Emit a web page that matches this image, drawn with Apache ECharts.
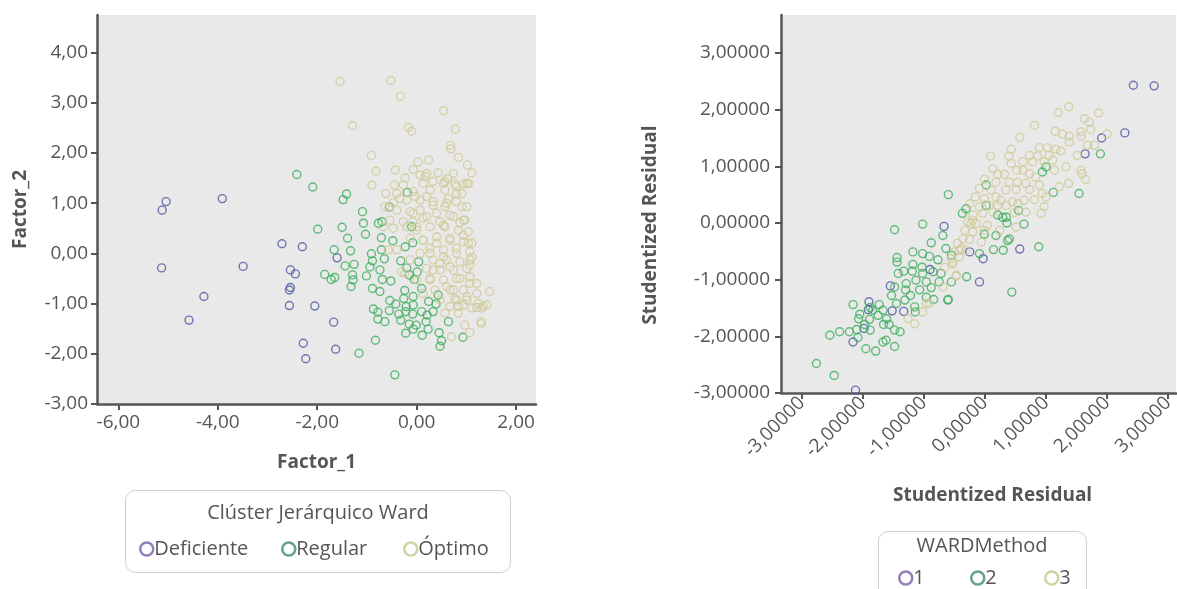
<!DOCTYPE html>
<html>
<head>
<meta charset="utf-8">
<script src="https://cdn.jsdelivr.net/npm/echarts@6/dist/echarts.min.js"></script>
<style>
html,body{margin:0;padding:0;background:#fff;}
#chart{width:1177px;height:589px;}
</style>
</head>
<body>
<div id="chart"></div>
<script>
// ---------- DATA ----------
const leftTicksX = [-6, -4, -2, 0, 2];
const leftTicksY = [-3, -2, -1, 0, 1, 2, 3, 4];
const rightTicks = [-3, -2, -1, 0, 1, 2, 3];

const leftNames = ['Deficiente', 'Regular', 'Óptimo'];
const rightNames = ['1', '2', '3'];
const leftLegendTitle = 'Clúster Jerárquico Ward';
const rightLegendTitle = 'WARDMethod';

const deficiente = [
[-5.04,1.03],[-5.12,0.86],[-3.91,1.09],[-5.13,-0.29],[-3.49,-0.26],[-4.28,-0.86],[-4.58,-1.33],
[-2.71,0.19],[-2.30,0.13],[-2.54,-0.33],[-2.44,-0.41],[-2.54,-0.68],[-2.56,-0.73],[-2.56,-1.04],
[-2.05,-1.05],[-2.28,-1.79],[-2.23,-2.10],[-1.67,-1.37],[-1.63,-1.91],[-1.60,-0.09]
];
const regular = [
[-2.41,1.57],[-2.09,1.32],[-1.99,0.48],[-1.66,0.07],[-1.85,-0.42],[-1.72,-0.52],[-1.65,-0.48],
[-1.48,1.07],[-1.41,1.18],[-1.09,0.83],[-1.07,0.60],[-0.77,0.60],[-0.70,0.63],[-1.50,0.52],[-0.10,0.53],
[-0.55,0.92],[-0.19,1.21],[-1.03,0.38],[-1.39,0.30],[-0.71,0.31],[-0.48,0.25],[-1.33,0.05],[-0.91,-0.01],
[-0.71,0.07],[-0.23,0.13],[-0.08,0.21],[-0.89,-0.15],[-0.65,-0.11],[-0.32,-0.15],[0.04,-0.17],[-1.44,-0.25],
[-1.26,-0.22],[-0.94,-0.27],[-0.74,-0.33],[-0.20,-0.29],[0.01,-0.37],[-1.29,-0.43],[-1.01,-0.45],[-1.28,-0.53],
[-0.69,-0.52],[-0.52,-0.55],[-0.15,-0.43],[-0.05,-0.52],[-1.32,-0.66],[-0.89,-0.70],[-0.74,-0.76],[-0.24,-0.74],
[0.10,-0.70],[-0.26,-0.90],[-0.07,-0.86],[0.43,-0.83],[-0.54,-0.94],[-0.42,-1.01],[-0.21,-1.06],[-0.07,-1.03],
[0.24,-0.96],[0.39,-1.01],[-0.87,-1.11],[-0.78,-1.17],[-0.55,-1.14],[-0.36,-1.21],[-0.22,-1.16],[-0.08,-1.21],
[0.10,-1.16],[0.21,-1.23],[0.33,-1.16],[-0.78,-1.31],[-0.64,-1.36],[-0.32,-1.33],[-0.15,-1.41],[-0.01,-1.43],
[0.19,-1.36],[-0.22,-1.59],[-0.07,-1.51],[0.11,-1.63],[0.23,-1.51],[0.45,-1.58],[0.64,-1.36],[0.50,-1.74],
[0.47,-1.85],[0.93,-1.67],[-0.83,-1.73],[-1.16,-1.99],[-0.44,-2.42]
];
const optimo = [
[-1.54,3.42],[-0.52,3.44],[-0.33,3.13],[0.54,2.84],[-1.29,2.54],[-0.17,2.51],[-0.10,2.43],[0.78,2.47],
[0.68,2.15],[0.69,2.08],[0.84,1.91],[-0.91,1.95],[0.03,1.82],[0.24,1.86],[1.02,1.76],[1.11,1.60],
[-0.82,1.64],[-0.43,1.66],[-0.07,1.67],[-0.23,1.50],[-0.90,1.36],[-0.45,1.36],[-0.62,1.19],[1.01,1.39],
[0.07,1.56],[0.20,1.59],[0.43,1.60],[0.62,1.49],[0.74,1.59],[0.13,1.39],[0.33,1.43],[0.54,1.39],
[0.77,1.38],[0.94,1.38],[0.27,1.26],[0.57,1.26],[0.80,1.19],[0.20,1.13],[-0.03,1.13],[-0.34,1.09],
[-0.47,1.01],[0.64,1.09],[0.91,0.93],[0.60,1.00],[0.33,0.96],[0.07,0.86],[-0.13,0.83],[-0.40,0.86],
[-0.64,0.93],[0.40,0.80],[0.67,0.76],[0.94,0.66],[0.13,0.70],[-0.07,0.63],[0.47,0.63],[0.27,0.53],
[-0.27,0.63],[-0.54,0.66],[1.47,-0.76],[0.97,-1.43],[1.29,-1.36],[1.30,-1.40],[0.70,-1.66],[1.07,-1.58],
[1.21,-1.08],[1.34,-1.05],[0.94,-1.03],[0.80,-0.93],[0.60,-0.66],[1.07,-0.60],[1.21,-0.60],[0.27,-0.53],
[0.87,-0.50],[0.67,-0.27],[1.07,-0.23],[0.27,0.00],[0.54,-0.07],[0.80,0.00],[1.11,-0.08],[0.13,0.26],
[0.40,0.20],[0.67,0.30],[0.94,0.36],[1.04,0.20],[0.54,0.56],[0.87,0.61],[-0.20,0.53],[0.00,0.46],
[-0.40,0.07],[-0.30,-0.37],[0.33,-0.33],[0.47,-0.20],[0.74,-0.73],[1.01,-0.86],[0.67,-1.06],[0.84,-1.19],
[0.57,-1.19],[-0.07,0.80],[0.20,0.73],[0.74,0.73],[0.97,0.66],[0.00,0.53],[0.57,0.53],[0.84,0.46],
[1.04,0.43],[-0.13,0.30],[0.13,0.26],[0.40,0.33],[0.67,0.26],[0.94,0.23],[1.11,0.20],[0.27,0.10],
[0.54,0.07],[0.80,0.10],[1.07,0.03],[0.07,0.00],[0.33,-0.13],[0.60,-0.13],[0.87,-0.17],[1.07,-0.13],
[0.20,-0.30],[0.47,-0.33],[0.74,-0.33],[1.01,-0.30],[0.27,-0.50],[0.54,-0.53],[0.80,-0.50],[1.07,-0.47],
[0.67,-0.73],[0.94,-0.73],[1.21,-0.80],[0.77,-0.90],[1.01,-0.93],[1.24,-1.00],[0.84,-1.06],[1.11,-1.09],
[1.31,-1.09],[1.41,-1.03],[0.37,-0.73],[0.47,-0.93],[-0.13,-0.13],[-0.24,-0.40],[0.00,-0.53],[0.13,-0.80],
[-0.20,1.06],[0.07,1.06],[0.33,1.03],[0.57,0.93],[0.80,1.03],[1.01,0.93],[0.17,1.53],[0.57,1.43],
[0.80,1.33],[1.04,1.39],[0.91,1.19],[-0.07,1.23],[-0.40,1.19],[-0.27,1.36],[-0.54,0.93],[-0.67,0.53],
[-0.47,0.50],[-0.57,0.07]
];

const ward1 = [
[2.43,2.43],[2.77,2.42],[2.29,1.59],[1.91,1.50],[1.64,1.22],[-0.67,-0.06],[0.57,-0.46],[-0.03,-0.63],
[-0.25,-0.51],[-0.90,-0.82],[-1.55,-1.11],[-1.90,-1.39],[-1.91,-1.53],[-1.52,-1.55],[-1.33,-1.56],
[-1.98,-1.86],[-2.16,-2.10],[-2.12,-2.95],[-0.09,-1.04]
];
const ward2 = [
[-1.48,-0.12],[-1.02,-0.02],[-0.69,-0.22],[-0.88,-0.35],[-1.18,-0.51],[-1.02,-0.54],[-0.91,-0.59],
[-0.77,-0.65],[-0.64,-0.45],[-0.55,-0.57],[-1.44,-0.61],[-1.44,-0.69],[-1.18,-0.73],[-1.03,-0.78],
[-1.19,-0.85],[-1.33,-0.85],[-1.42,-0.89],[-1.02,-0.89],[-0.85,-0.86],[-0.72,-0.89],[-1.13,-1.01],
[-0.96,-1.04],[-0.75,-1.04],[-0.55,-1.04],[-0.88,-1.14],[-1.29,-1.07],[-1.48,-1.13],[-1.53,-1.28],
[-1.30,-1.18],[-1.22,-1.28],[-1.07,-1.18],[-0.96,-1.31],[-0.84,-1.35],[-0.61,-1.36],[-1.31,-1.36],
[-1.45,-1.42],[-1.73,-1.44],[-1.88,-1.49],[-2.16,-1.44],[-2.05,-1.61],[-1.84,-1.54],[-1.67,-1.54],
[-1.75,-1.63],[-1.61,-1.69],[-2.07,-1.69],[-1.89,-1.70],[-1.15,-1.48],[-1.14,-1.57],[-1.48,-1.89],
[-1.39,-1.92],[-1.66,-1.79],[-1.57,-1.79],[-1.97,-1.79],[-2.10,-1.88],[-1.88,-1.89],[-2.22,-1.92],
[-2.38,-1.92],[-2.54,-1.98],[-2.08,-2.02],[-1.67,-2.10],[-1.62,-2.07],[-1.95,-2.22],[-1.79,-2.26],
[-1.48,-2.18],[-2.76,-2.48],[-2.47,-2.69],[1.89,1.22],[-0.60,0.50],[1.00,0.99],[0.94,0.90],
[1.12,0.54],[1.54,0.52],[0.02,0.67],[-0.31,0.25],[-0.37,0.17],[0.21,0.14],[0.35,0.10],[0.36,0.00],
[0.55,0.22],[0.64,-0.02],[-0.01,-0.20],[0.18,-0.22],[0.37,-0.31],[0.40,-0.28],[0.14,-0.47],[0.30,-0.48],
[0.88,-0.42],[-0.09,-0.54],[0.44,-1.22],[0.02,0.31],[0.29,0.10],[-0.30,-0.95],[-0.60,-1.35]
];
const ward3 = [
[1.37,2.05],[1.20,1.95],[1.86,1.94],[1.63,1.84],[1.71,1.78],[0.81,1.72],[1.73,1.65],[1.15,1.62],
[1.27,1.57],[1.38,1.53],[1.57,1.61],[1.58,1.53],[2.00,1.57],[0.57,1.51],[1.38,1.43],[1.68,1.37],
[1.79,1.37],[0.89,1.33],[1.02,1.33],[1.16,1.30],[1.24,1.27],[0.73,1.19],[0.86,1.18],[1.05,1.19],
[1.51,1.19],[0.09,1.18],[0.39,1.18],[0.43,1.30],[0.62,1.08],[0.78,1.08],[0.97,1.08],[1.11,1.11],
[1.33,0.99],[0.43,1.05],[0.13,0.96],[0.21,0.86],[0.32,0.86],[0.52,0.93],[0.62,0.93],[0.73,0.87],
[0.83,0.81],[1.14,0.93],[1.57,0.93],[1.59,0.87],[1.65,0.77],[-0.01,0.77],[0.18,0.72],[0.40,0.72],
[0.53,0.72],[0.67,0.70],[0.89,0.67],[1.37,0.70],[1.22,0.64],[-0.09,0.61],[0.10,0.58],[0.34,0.58],
[0.51,0.59],[0.73,0.59],[0.94,0.52],[-0.16,0.46],[-0.01,0.43],[0.18,0.46],[0.26,0.40],[0.45,0.37],
[0.64,0.40],[0.81,0.41],[1.00,0.46],[0.92,0.17],[0.97,0.29],[-0.25,0.34],[-0.09,0.28],[0.07,0.31],
[0.21,0.31],[0.35,0.31],[0.54,0.34],[-0.20,0.14],[-0.04,0.17],[0.13,0.19],[0.48,0.18],[0.67,0.19],
[-0.28,0.02],[-0.14,-0.01],[0.04,-0.04],[0.51,-0.07],[-0.33,-0.13],[-0.20,-0.16],[-0.01,-0.13],[0.24,-0.13],
[-0.36,-0.28],[-0.25,-0.29],[-0.06,-0.34],[-0.45,-0.36],[-0.39,-0.45],[-0.50,-0.51],[-0.31,-0.48],[-0.42,-0.60],
[-0.55,-0.63],[-0.23,-0.01],[-0.53,-0.72],[-0.66,-0.78],[-0.47,-0.92],[-0.69,-1.13],[-0.96,-1.42],[-1.02,-1.57],
[-1.26,-1.69],[-1.15,-1.78],[-0.20,0.05],[-0.91,-1.42],[-0.47,-0.94],[-0.53,-0.69],[-0.42,-0.48]
];

// ---------- STYLE ----------
const FONT = '"Open Sans"';
const pointColors = ['#4d58a3', '#3dae5c', '#d0ca98'];
const legendColors = ['#7b5ea8', '#3f8c64', '#c9c58f'];
const axisColor = '#555555';
const textColor = '#555555';

const fmt2 = v => v.toFixed(2).replace('.', ',');
const fmt5 = v => v.toFixed(5).replace('.', ',');

const nameStyle = { color: textColor, fontFamily: FONT, fontSize: 19, fontWeight: 'bold' };

function axisBase(ticks, fmt, extra) {
  return Object.assign({
    type: 'value',
    axisLine: { show: true, onZero: false, lineStyle: { color: axisColor, width: 2.5 } },
    axisTick: { show: true, length: 6, lineStyle: { color: axisColor, width: 2 }, customValues: ticks },
    splitLine: { show: false },
    nameTextStyle: nameStyle,
    nameLocation: 'middle'
  }, extra);
}

function labelStyle(ticks, fmt, more) {
  return Object.assign({ color: textColor, fontFamily: FONT, fontSize: 19, formatter: fmt, customValues: ticks }, more);
}

function scatter(name, data, xi, color) {
  return {
    type: 'scatter', name: name, data: data, xAxisIndex: xi, yAxisIndex: xi,
    symbol: 'circle', symbolSize: 8,
    itemStyle: { color: 'rgba(0,0,0,0)', borderColor: color, borderWidth: 1.4 },
    emphasis: { disabled: true }, silent: true
  };
}

// one legend per entry so each item sits where the reference has it
function legendItem(name, colorIdx, left, top) {
  return {
    data: [{ name: name, icon: 'circle',
      itemStyle: { color: 'rgba(0,0,0,0)', borderColor: legendColors[colorIdx], borderWidth: 2.5 } }],
    left: left, top: top, padding: 0, itemWidth: 13, itemHeight: 13, selectedMode: false,
    textStyle: { color: textColor, fontFamily: FONT, fontSize: 20, padding: [0, 0, 0, -4] }
  };
}
const leftLegendLefts = [139, 281, 403];
const rightLegendLefts = [898, 970, 1044];

const chart = echarts.init(document.getElementById('chart'));
chart.setOption({
  animation: false,
  backgroundColor: '#ffffff',
  grid: [
    { left: 97, top: 15, width: 439, height: 389, show: true, backgroundColor: '#e9e9e9', borderWidth: 0 },
    { left: 781, top: 15, right: 0, height: 378, show: true, backgroundColor: '#e9e9e9', borderWidth: 0 }
  ],
  xAxis: [
    axisBase(leftTicksX, fmt2, { gridIndex: 0, min: -6.43, max: 2.40, name: 'Factor_1', nameGap: 49,
      axisLabel: labelStyle(leftTicksX, fmt2, { margin: 9 }) }),
    axisBase(rightTicks, fmt5, { gridIndex: 1, min: -3.34, max: 3.13, name: 'Studentized Residual', nameGap: 93,
      nameTextStyle: Object.assign({}, nameStyle, { padding: [0, 0, 0, 28] }),
      axisLabel: labelStyle(rightTicks, fmt5, { rotate: 45, margin: 7 }) })
  ],
  yAxis: [
    axisBase(leftTicksY, fmt2, { gridIndex: 0, min: -3, max: 4.745, name: 'Factor_2', nameGap: 67,
      axisLabel: labelStyle(leftTicksY, fmt2, { margin: 9 }) }),
    axisBase(rightTicks, fmt5, { gridIndex: 1, min: -3, max: 3.67, name: 'Studentized Residual', nameGap: 121,
      nameTextStyle: Object.assign({}, nameStyle, { padding: [0, 42, 0, 0] }),
      axisLabel: labelStyle(rightTicks, fmt5, { margin: 11 }) })
  ],
  legend: [
    legendItem(leftNames[0], 0, leftLegendLefts[0], 539),
    legendItem(leftNames[1], 1, leftLegendLefts[1], 539),
    legendItem(leftNames[2], 2, leftLegendLefts[2], 539),
    legendItem(rightNames[0], 0, rightLegendLefts[0], 568),
    legendItem(rightNames[1], 1, rightLegendLefts[1], 568),
    legendItem(rightNames[2], 2, rightLegendLefts[2], 568)
  ],
  graphic: [
    { type: 'rect', shape: { x: 125.5, y: 490.5, width: 385, height: 82, r: 10 }, style: { fill: 'none', stroke: '#cfcfcf', lineWidth: 1 }, z: -1 },
    { type: 'text', x: 318, y: 513, style: { text: leftLegendTitle, font: '20px ' + FONT, fill: textColor, textAlign: 'center', textVerticalAlign: 'middle' } },
    { type: 'rect', shape: { x: 878.5, y: 531.5, width: 208, height: 80, r: 10 }, style: { fill: 'none', stroke: '#cfcfcf', lineWidth: 1 }, z: -1 },
    { type: 'text', x: 982, y: 546, style: { text: rightLegendTitle, font: '20px ' + FONT, fill: textColor, textAlign: 'center', textVerticalAlign: 'middle' } }
  ],
  series: [
    scatter(leftNames[0], deficiente, 0, pointColors[0]),
    scatter(leftNames[1], regular, 0, pointColors[1]),
    scatter(leftNames[2], optimo, 0, pointColors[2]),
    scatter(rightNames[0], ward1, 1, pointColors[0]),
    scatter(rightNames[1], ward2, 1, pointColors[1]),
    scatter(rightNames[2], ward3, 1, pointColors[2])
  ]
});
</script>
</body>
</html>
